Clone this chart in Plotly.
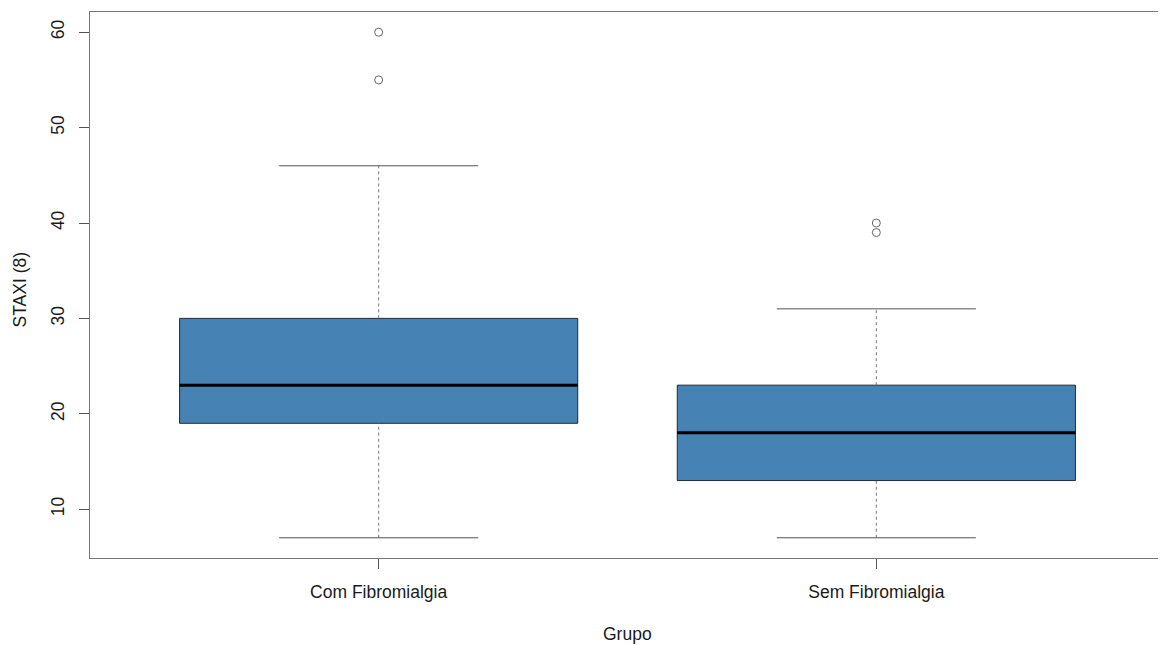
import plotly.graph_objects as go

# ---- data ----
groups = ["Com Fibromialgia", "Sem Fibromialgia"]
positions = [1, 2]
q1 = [19, 13]
median = [23, 18]
q3 = [30, 23]
lower_whisker = [7, 7]
upper_whisker = [46, 31]
outliers = [[60, 55], [40, 39]]
y_ticks = [10, 20, 30, 40, 50, 60]

BOX_W = 0.8
CAP_W = 0.4
FONT = "Liberation Sans, Arial, Helvetica, sans-serif"
LINE_C = "#555555"
TXT_C = "#1a1a1a"

fig = go.Figure()

# boxes (no whiskers; drawn separately as dashed lines)
fig.add_trace(go.Box(
    x=positions, q1=q1, median=median, q3=q3,
    lowerfence=q1, upperfence=q3,
    width=BOX_W, whiskerwidth=0,
    fillcolor="#4682B4", line=dict(color="#1e2a36", width=1),
    boxpoints=False, hoverinfo="skip", showlegend=False,
))

for p, lo, a, b, hi, md, outs in zip(positions, lower_whisker, q1, q3, upper_whisker, median, outliers):
    # dashed whiskers
    fig.add_trace(go.Scatter(
        x=[p, p, None, p, p], y=[lo, a, None, b, hi], mode="lines",
        line=dict(color="#777777", width=1, dash="3px,3px"),
        showlegend=False, hoverinfo="skip"))
    # staples
    fig.add_trace(go.Scatter(
        x=[p - CAP_W / 2, p + CAP_W / 2, None, p - CAP_W / 2, p + CAP_W / 2],
        y=[lo, lo, None, hi, hi], mode="lines",
        line=dict(color=LINE_C, width=1),
        showlegend=False, hoverinfo="skip"))
    # median
    fig.add_trace(go.Scatter(
        x=[p - BOX_W / 2, p + BOX_W / 2], y=[md, md], mode="lines",
        line=dict(color="black", width=3),
        showlegend=False, hoverinfo="skip"))
    # outliers
    fig.add_trace(go.Scatter(
        x=[p] * len(outs), y=outs, mode="markers",
        marker=dict(symbol="circle-open", size=8, color="#666666", line=dict(width=1)),
        showlegend=False, hoverinfo="skip"))

fig.update_layout(
    width=1158, height=637,
    margin=dict(l=82, r=1, t=4, b=87),
    paper_bgcolor="white", plot_bgcolor="white",
    font=dict(family=FONT, size=17.5, color=TXT_C),
    xaxis=dict(
        range=[0.42, 2.58], tickmode="array", tickvals=positions, ticktext=groups,
        ticks="outside", ticklen=10, tickcolor=LINE_C, tickwidth=1,
        showline=True, linecolor="#777777", linewidth=1, mirror=True,
        showgrid=False, zeroline=False, ticklabelstandoff=8,
        automargin=False,
    ),
    yaxis=dict(
        range=[4.88, 62.12], tickmode="array", tickvals=y_ticks,
        tickangle=-90, ticks="outside", ticklen=10, tickcolor=LINE_C, tickwidth=1,
        showline=True, linecolor="#777777", linewidth=1, mirror=True,
        showgrid=False, zeroline=False, automargin=False, ticklabelstandoff=8,
    ),
    annotations=[
        dict(text="STAXI (8)", xref="paper", yref="paper", x=0, y=0.5,
             xanchor="center", yanchor="middle", xshift=-70.5, yshift=-5,
             textangle=-90, showarrow=False, font=dict(size=17.5, color=TXT_C)),
        dict(text="Grupo", xref="paper", yref="paper", x=0.5, y=0,
             xanchor="center", yanchor="middle", yshift=-76,
             showarrow=False, font=dict(size=17.5, color=TXT_C)),
    ],
)

fig.write_html("out.html")
